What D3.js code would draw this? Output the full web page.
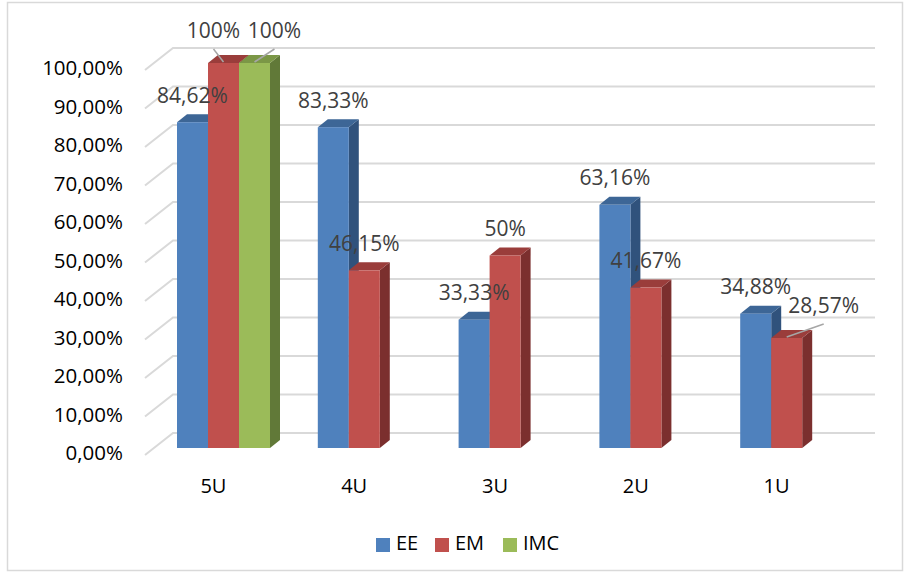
<!DOCTYPE html>
<html>
<head>
<meta charset="utf-8">
<script src="https://cdn.jsdelivr.net/npm/d3@7"></script>
<style>
  body { margin: 0; background: #fff; }
  text { font-family: "Open Sans", sans-serif; }
</style>
</head>
<body>
<div id="chart"></div>
<script>
// data
const categories = ['5U', '4U', '3U', '2U', '1U'];
const seriesNames = ['EE', 'EM', 'IMC'];
const eeValues = [84.62, 83.33, 33.33, 63.16, 34.88];
const emValues = [100, 46.15, 50, 41.67, 28.57];
const imcValues = [100, null, null, null, null];
const yTicks = [0, 10, 20, 30, 40, 50, 60, 70, 80, 90, 100];

const colors = {
  EE:  { front: '#4f81bd', top: '#3d6696', side: '#30527c' },
  EM:  { front: '#c0504d', top: '#9a3d3b', side: '#7b2f2e' },
  IMC: { front: '#9bbb59', top: '#7b9746', side: '#617938' }
};

const w = 907, h = 574;
const svg = d3.select('#chart').append('svg').attr('width', w).attr('height', h);

// outer frame
svg.append('rect')
  .attr('x', 7.5).attr('y', 2.5).attr('width', 895).attr('height', 568)
  .attr('fill', 'none').attr('stroke', '#d9d9d9').attr('stroke-width', 1.5);

// 3d offsets (wall depth, bar offset from front, bar depth)
const WX = 28, WY = -22;
const BX = 7, BY = -7;
const DX = 10, DY = -8;

const y = d3.scaleLinear().domain([0, 100]).range([455, 70]);
const x0 = d3.scaleBand().domain(categories).range([143, 847]);
const x1 = d3.scaleBand().domain(seriesNames).range([27, 120]);

const valuesBySeries = { EE: eeValues, EM: emValues, IMC: imcValues };

// gridlines: diagonal on the side wall + horizontal on the back wall
const grid = svg.append('g');
yTicks.forEach(t => {
  grid.append('polyline')
    .attr('points', `145,${y(t)} ${145 + WX},${y(t) + WY} ${847 + WX},${y(t) + WY}`)
    .attr('fill', 'none').attr('stroke', '#d9d9d9').attr('stroke-width', 2);
});

// y tick labels
svg.append('g').selectAll('text').data(yTicks).join('text')
  .attr('x', 123).attr('y', d => y(d))
  .attr('text-anchor', 'end').attr('dominant-baseline', 'middle')
  .attr('font-size', 20.5).attr('fill', '#000')
  .text(d => d3.format('.2f')(d).replace('.', ',') + '%');

// category labels
svg.append('g').selectAll('text').data(categories).join('text')
  .attr('x', d => x0(d) + x0.bandwidth() / 2).attr('y', 488)
  .attr('text-anchor', 'middle').attr('dominant-baseline', 'middle')
  .attr('font-size', 20).attr('fill', '#000')
  .text(d => d);

// flatten bars, left to right
const bars = [];
categories.forEach((c, i) => {
  seriesNames.forEach(s => {
    const v = valuesBySeries[s][i];
    if (v != null) bars.push({ cat: c, series: s, value: v });
  });
});

const bw = x1.bandwidth();
const barG = svg.append('g');
bars.forEach(d => {
  const xl = x0(d.cat) + x1(d.series) + BX;
  const yt = y(d.value) + BY;
  const yb = y(0) + BY;
  const col = colors[d.series];
  // side
  barG.append('polygon')
    .attr('points', `${xl + bw},${yt} ${xl + bw + DX},${yt + DY} ${xl + bw + DX},${yb + DY} ${xl + bw},${yb}`)
    .attr('fill', col.side);
  // top
  barG.append('polygon')
    .attr('points', `${xl},${yt} ${xl + bw},${yt} ${xl + bw + DX},${yt + DY} ${xl + DX},${yt + DY}`)
    .attr('fill', col.top);
  // front
  barG.append('rect')
    .attr('x', xl).attr('y', yt).attr('width', bw).attr('height', yb - yt)
    .attr('fill', col.front);
});

// data labels; a few were dragged aside in the original and get leader lines
const labelShift = {
  '5U-EM': [-10, -6], '5U-IMC': [20, -6], '1U-EM': [37, -6]
};
const fmt = v => Number.isInteger(v) ? v + '%' : d3.format('.2f')(v).replace('.', ',') + '%';

const labG = svg.append('g');
bars.forEach(d => {
  const cx = x0(d.cat) + x1(d.series) + BX + bw / 2;
  const yt = y(d.value) + BY;
  let lx = cx, ly = yt + DY - 17;
  const sh = labelShift[d.cat + '-' + d.series];
  if (sh) {
    lx += sh[0]; ly += sh[1];
    labG.append('line')
      .attr('x1', lx).attr('y1', ly + 17).attr('x2', cx).attr('y2', yt - 1)
      .attr('stroke', '#a6a6a6').attr('stroke-width', 1.5);
  }
  labG.append('text')
    .attr('x', lx).attr('y', ly)
    .attr('text-anchor', 'middle').attr('dominant-baseline', 'middle')
    .attr('font-size', 21).attr('fill', '#404040')
    .text(fmt(d.value));
});

// legend
const legendX = [376, 435, 503];
const legend = svg.append('g');
seriesNames.forEach((s, i) => {
  legend.append('rect')
    .attr('x', legendX[i]).attr('y', 538).attr('width', 14).attr('height', 14)
    .attr('fill', colors[s].front);
  legend.append('text')
    .attr('x', legendX[i] + 20).attr('y', 545)
    .attr('dominant-baseline', 'middle')
    .attr('font-size', 20).attr('fill', '#000')
    .text(s);
});
</script>
</body>
</html>
